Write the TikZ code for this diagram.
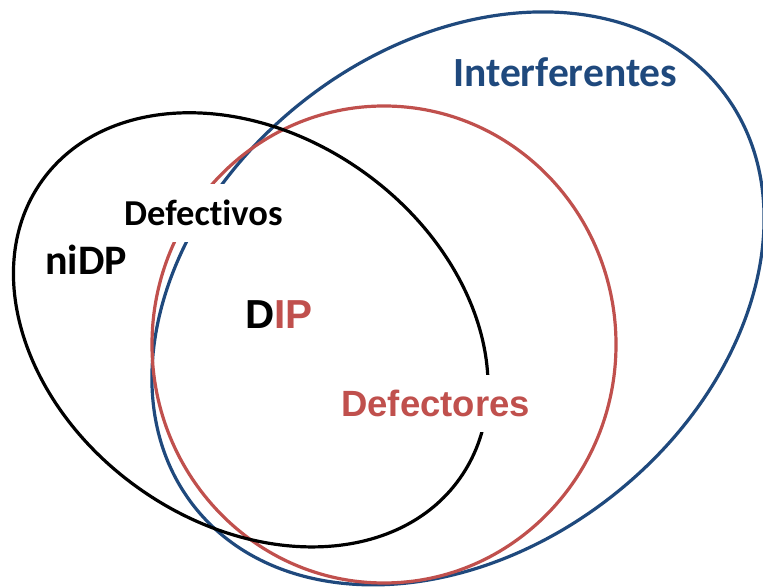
\documentclass[tikz,border=0pt]{standalone}
\usepackage{fontspec}
\newfontfamily\calfont{Carlito}[Ligatures=NoCommon]
\newfontfamily\arialfont{Liberation Sans}
\definecolor{dkblue}{HTML}{1F497D}
\definecolor{dkred}{HTML}{C0504D}
\begin{document}
\begin{tikzpicture}[x=1pt,y=1pt,
  ring/.style={line width=3.2pt},
  lbl/.style={inner sep=0pt, font=\bfseries},
  cover/.style={fill=white, inner xsep=3pt, inner ysep=16pt, text depth=0pt}]
\useasboundingbox (0,0) rectangle (763,588);
% sets
\draw[ring, dkblue] (458,289.6) ellipse [x radius=336, y radius=250.7, rotate=38.3];
\draw[ring, dkred] (384,243.5) ellipse [x radius=232, y radius=238.5];
\draw[ring, black] (250.75,258.15) ellipse [x radius=256.5, y radius=194, rotate=-35.5];
% labels
\node[lbl, anchor=base west, text=dkblue, font=\calfont\bfseries\fontsize{41.5}{41.5}\selectfont] (interf) at (453,501.3) {Interferentes};
\node[lbl, cover, anchor=base west, font=\calfont\bfseries\fontsize{36.5}{36.5}\selectfont] (defectivos) at (121,362) {Defectivos};
\node[lbl, anchor=base west, font=\calfont\bfseries\fontsize{42}{42}\selectfont] (nidp) at (45,313) {niDP};
\node[lbl, anchor=base west, font=\arialfont\bfseries\fontsize{40.5}{40.5}\selectfont] (dip) at (245,259) {D\textcolor{dkred}{IP}};
\node[lbl, cover, anchor=base west, text=dkred, inner ysep=15pt, font=\arialfont\bfseries\fontsize{36.5}{36.5}\selectfont] (defectores) at (338,171.3) {Defectores};
\end{tikzpicture}
\end{document}
